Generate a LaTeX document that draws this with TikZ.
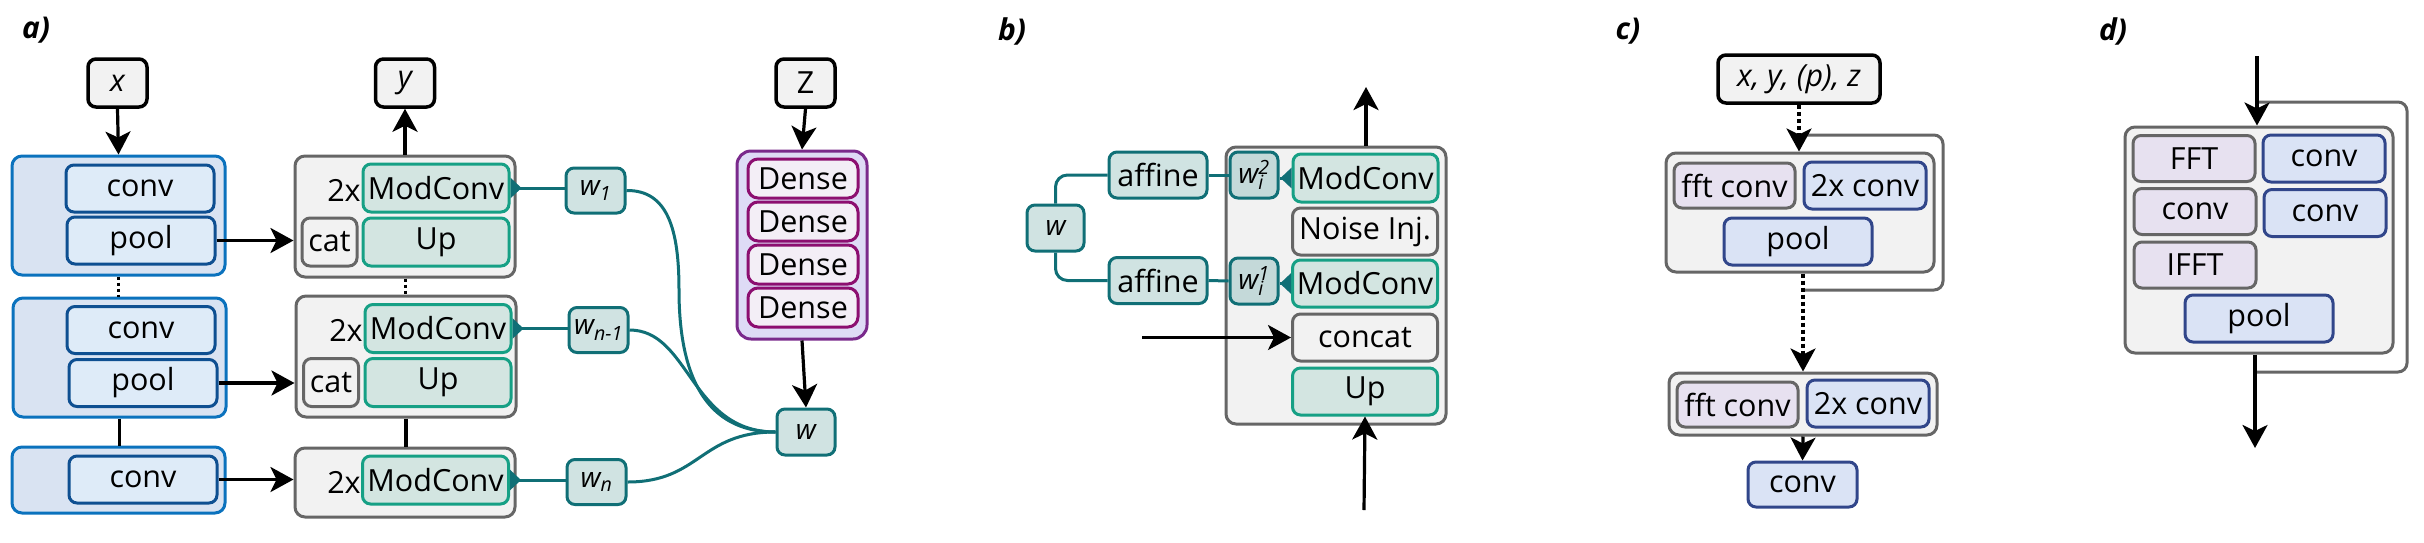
\documentclass[tikz,border=0pt]{standalone}
\usepackage{fontspec}
\setmainfont{Open Sans}
\usetikzlibrary{arrows.meta}
\definecolor{grayF}{HTML}{F2F2F2}
\definecolor{grayB}{HTML}{666666}
\definecolor{encOB}{HTML}{0B72BD}
\definecolor{encOF}{HTML}{D9E3F2}
\definecolor{encIB}{HTML}{0E4F91}
\definecolor{encIF}{HTML}{DEEBF8}
\definecolor{modB}{HTML}{16A085}
\definecolor{modF}{HTML}{D3E5E1}
\definecolor{wB}{HTML}{106F76}
\definecolor{wF}{HTML}{D0E3E2}
\definecolor{wiF}{HTML}{C4D9D9}
\definecolor{dnsOB}{HTML}{7A2A8C}
\definecolor{dnsOF}{HTML}{DEDBF6}
\definecolor{dnsIB}{HTML}{8C0E70}
\definecolor{dnsIF}{HTML}{F3EEF6}
\definecolor{lavF}{HTML}{E7E1F0}
\definecolor{bluB}{HTML}{31468A}
\definecolor{bluF}{HTML}{DAE3F5}
\newcommand\myfs{\fontsize{30.5pt}{36pt}\selectfont}
\newcommand\mywfs{\fontsize{28pt}{33pt}\selectfont}
\newcommand\mylfs{\fontsize{30pt}{36pt}\selectfont\bfseries\itshape}
\tikzset{
  bx/.style={rounded corners=8pt, line width=3pt, inner sep=0pt, font=\myfs},
  io/.style={bx, draw=black, line width=3.5pt, fill=grayF, minimum width=59pt, minimum height=48pt},
  encouter/.style={draw=encOB, fill=encOF, line width=3pt, rounded corners=10pt, inner sep=0pt, minimum width=213pt},
  encin/.style={bx, draw=encIB, fill=encIF, minimum width=148pt, minimum height=47pt},
  grayouter/.style={draw=grayB, fill=grayF, line width=3pt, rounded corners=10pt, inner sep=0pt},
  modbox/.style={bx, draw=modB, fill=modF, minimum width=146pt, minimum height=48pt},
  graybox/.style={bx, draw=grayB, fill=grayF},
  wbox/.style={bx, draw=wB, fill=wF, minimum width=59pt, minimum height=45pt, font=\mywfs},
  wibox/.style={bx, draw=wB, fill=wiF, minimum width=48pt, minimum height=46pt, font=\mywfs},
  dnsouter/.style={draw=dnsOB, fill=dnsOF, line width=3pt, rounded corners=14pt, inner sep=0pt},
  dnsbox/.style={bx, draw=dnsIB, fill=dnsIF, minimum width=110pt, minimum height=39pt, rounded corners=10pt},
  lavbox/.style={bx, draw=grayB, fill=lavF, minimum width=122pt, minimum height=46pt},
  blubox/.style={bx, draw=bluB, fill=bluF, minimum width=122pt, minimum height=47pt},
  plain/.style={inner sep=0pt, font=\myfs},
  lbl/.style={inner sep=0pt, font=\mylfs},
  arr/.style={line width=3.2pt, draw=black, -{Stealth[length=23pt,width=25pt,inset=6pt]}},
  dotarr/.style={arr, dash pattern=on 4pt off 3pt},
  dotln/.style={line width=3pt, draw=black, dash pattern=on 3pt off 3pt},
  ln/.style={line width=3.2pt, draw=black},
  tealln/.style={line width=3pt, draw=wB},
  tri/.style={tealln, {Triangle[reversed,length=11pt,width=20pt]}-},
  loopln/.style={line width=3pt, draw=grayB, rounded corners=9pt},
}
\begin{document}
\begin{tikzpicture}[x=1pt,y=-1pt]
\useasboundingbox (0,0) rectangle (2424,542);
% ---------------- a) ----------------
\node[lbl] (la) at (36,30) {a)};
\node[io] (xin) at (117.5,83) {\itshape x};
\node[io] (yout) at (405,83) {\itshape y};
\node[io] (zin) at (805.5,83) {Z};
% encoder
\node[encouter, minimum height=119pt] (enc1) at (118.5,215.5) {};
\node[encouter, minimum height=119pt] (enc2) at (119.5,357.5) {};
\node[encouter, minimum height=66pt] (enc3) at (118.5,480) {};
\node[encin] (ec1) at (140,188.5) {conv};
\node[encin] (ep1) at (141,240.5) {pool};
\node[encin] (ec2) at (141,330) {conv};
\node[encin] (ep2) at (143,383) {pool};
\node[encin] (ec3) at (143,479.5) {conv};
% decoder
\node[grayouter, minimum width=220pt, minimum height=121pt] (dec1) at (405,216.5) {};
\node[grayouter, minimum width=220pt, minimum height=121pt] (dec2) at (406,356.5) {};
\node[grayouter, minimum width=220pt, minimum height=69pt] (dec3) at (405,482.5) {};
\node[plain] (tx1) at (344,190) {2x};
\node[plain] (tx2) at (346,330) {2x};
\node[plain] (tx3) at (344,482) {2x};
\node[modbox] (mc1) at (436,188) {ModConv};
\node[modbox] (up1) at (436,242) {Up};
\node[graybox, minimum width=55pt, minimum height=48pt] (cat1) at (329.5,242) {cat};
\node[modbox] (mc2) at (438,328.5) {ModConv};
\node[modbox] (up2) at (438,382.5) {Up};
\node[graybox, minimum width=55pt, minimum height=48pt] (cat2) at (331,382.5) {cat};
\node[modbox] (mc3) at (435.5,480) {ModConv};
% w boxes
\node[wbox] (w1) at (595.5,190.5) {\itshape w\textsubscript{1}};
\node[wbox] (wn1) at (598.5,330) {\itshape w\textsubscript{n-1}};
\node[wbox] (wn) at (596.5,482) {\itshape w\textsubscript{n}};
% dense
\node[dnsouter, minimum width=130pt, minimum height=188pt] (dns) at (802,245) {};
\node[dnsbox] (d1) at (803,178.5) {Dense};
\node[dnsbox] (d2) at (803,221.5) {Dense};
\node[dnsbox] (d3) at (803,264.5) {Dense};
\node[dnsbox] (d4) at (803,307.5) {Dense};
\node[wbox, minimum width=58pt, minimum height=46pt] (wa) at (806,432) {\itshape w};
% connectors a
\draw[arr] (xin.south) -- (enc1.north);
\draw[arr] (dec1.north) -- (yout.south);
\draw[dotln] (enc1.south) -- (enc2.north -| enc1.south);
\draw[ln] (enc2.south) -- (enc2.south |- enc3.north);
\draw[dotln] (dec1.south) -- (dec2.north -| dec1.south);
\draw[ln] (dec2.south) -- (dec3.north -| dec2.south);
\draw[arr] (ep1.east) -- (ep1.east -| dec1.west);
\draw[arr] (ep2.east) -- (ep2.east -| dec2.west);
\draw[arr] (ec3.east) -- (ec3.east -| dec3.west);
\draw[tri] (mc1.east) -- (mc1.east -| w1.west);
\draw[tri] (mc2.east) -- (mc2.east -| wn1.west);
\draw[tri] (mc3.east) -- (mc3.east -| wn.west);
\draw[arr] (zin.south) -- (dns.north);
\draw[arr] (dns.south) -- (wa.north);
\coordinate (cv1) at (679,290);
\draw[tealln] (w1.east) .. controls (668,190) and (679,230) .. (cv1)
   .. controls (679,390) and (715,432) .. (wa.west);
\draw[tealln] (wn1.east) .. controls (690,330) and (690,432) .. (wa.west);
\draw[tealln] (wn.east) .. controls (700,482) and (700,432) .. (wa.west);
% ---------------- b) ----------------
\node[lbl] (lb) at (1012,31) {b)};
\node[grayouter, minimum width=220pt, minimum height=277pt] (blk) at (1336,285.5) {};
\node[modbox, minimum width=145pt] (mcb2) at (1365.5,178) {ModConv};
\node[graybox, minimum width=145pt, minimum height=47pt] (noise) at (1365,231.5) {Noise Inj.};
\node[modbox, minimum width=145pt, minimum height=47pt] (mcb1) at (1365,283.5) {ModConv};
\node[graybox, minimum width=145pt, minimum height=47pt] (concat) at (1365,337.5) {concat};
\node[modbox, minimum width=145pt, minimum height=47pt] (upb) at (1365,391.5) {Up};
\node[wbox, minimum width=57pt, minimum height=46pt] (wb) at (1055.5,228) {\itshape w};
\node[wbox, minimum width=98pt, minimum height=46pt, font=\myfs] (aff1) at (1158,175) {affine};
\node[wbox, minimum width=98pt, minimum height=46pt, font=\myfs] (aff2) at (1158,280.5) {affine};
\node[wibox] (wi2) at (1254,175) {\itshape w\rlap{\textsubscript{i}}\textsuperscript{2}};
\node[wibox] (wi1) at (1254,281) {\itshape w\rlap{\textsubscript{i}}\textsuperscript{1}};
\draw[tealln, rounded corners=12pt] (wb.north) |- (aff1.west);
\draw[tealln, rounded corners=12pt] (wb.south) |- (aff2.west);
\draw[tealln] (aff1.east) -- (wi2.west);
\draw[tealln] (aff2.east) -- (wi1.west);
\draw[tri] (mcb2.west) -- (mcb2.west -| wi2.east);
\draw[tri] (mcb1.west) -- (mcb1.west -| wi1.east);
\coordinate (bout) at (1366,87);
\coordinate (bin) at (1142,337.5);
\coordinate (bbot) at (1364,510);
\draw[arr] (blk.north -| bout) -- (bout);
\draw[arr] (bin) -- (concat.west);
\draw[arr] (bbot) -- (upb.south);
% ---------------- c) ----------------
\node[lbl] (lc) at (1628,31) {c)};
\coordinate (cl1) at (1799,135);
\coordinate (cr) at (1943,212);
\coordinate (cl2) at (1803,290);
\draw[loopln] (cl1) -| (cr) |- (cl2);
\node[io, minimum width=162pt] (inp) at (1799,79) {\itshape x, y, (p), z};
\node[grayouter, minimum width=268pt, minimum height=119pt] (c1) at (1800,212.5) {};
\node[lavbox, minimum width=121pt, minimum height=45pt] (fft1) at (1734.5,185.5) {fft conv};
\node[blubox] (cc1) at (1865,185.5) {2x conv};
\node[blubox, minimum width=148pt] (poolc) at (1798,241.5) {pool};
\node[grayouter, minimum width=268pt, minimum height=62pt] (c2) at (1803,404) {};
\node[lavbox, minimum width=121pt, minimum height=45pt] (fft2) at (1737.5,404.5) {fft conv};
\node[blubox] (cc2) at (1868,403.5) {2x conv};
\node[blubox, minimum width=109pt, minimum height=45pt] (convc) at (1802.5,484.5) {conv};
\draw[dotarr] (inp.south) -- (c1.north -| inp.south);
\draw[dotarr] (cl2 |- c1.south) -- (cl2 |- c2.north);
\draw[arr] (c2.south) -- (convc.north);
% ---------------- d) ----------------
\node[lbl] (ld) at (2113,31) {d)};
\coordinate (dl1) at (2257,102);
\coordinate (dr) at (2407,240);
\coordinate (dl2) at (2255,372);
\draw[loopln] (dl1) -| (dr) |- (dl2);
\node[grayouter, minimum width=268pt, minimum height=226pt] (dblk) at (2259,240) {};
\node[lavbox] (fftd) at (2194,158.5) {FFT};
\node[blubox] (dcv1) at (2324,158.5) {conv};
\node[lavbox] (dcv2) at (2195,211.5) {conv};
\node[blubox] (dcv3) at (2325,213) {conv};
\node[lavbox] (ifft) at (2195,265) {IFFT};
\node[blubox, minimum width=148pt] (dpool) at (2259,318.5) {pool};
\coordinate (din) at (2257,56);
\coordinate (dout) at (2255,448);
\draw[arr] (din) -- (din |- dblk.north);
\draw[arr] (dout |- dblk.south) -- (dout);
\end{tikzpicture}
\end{document}
